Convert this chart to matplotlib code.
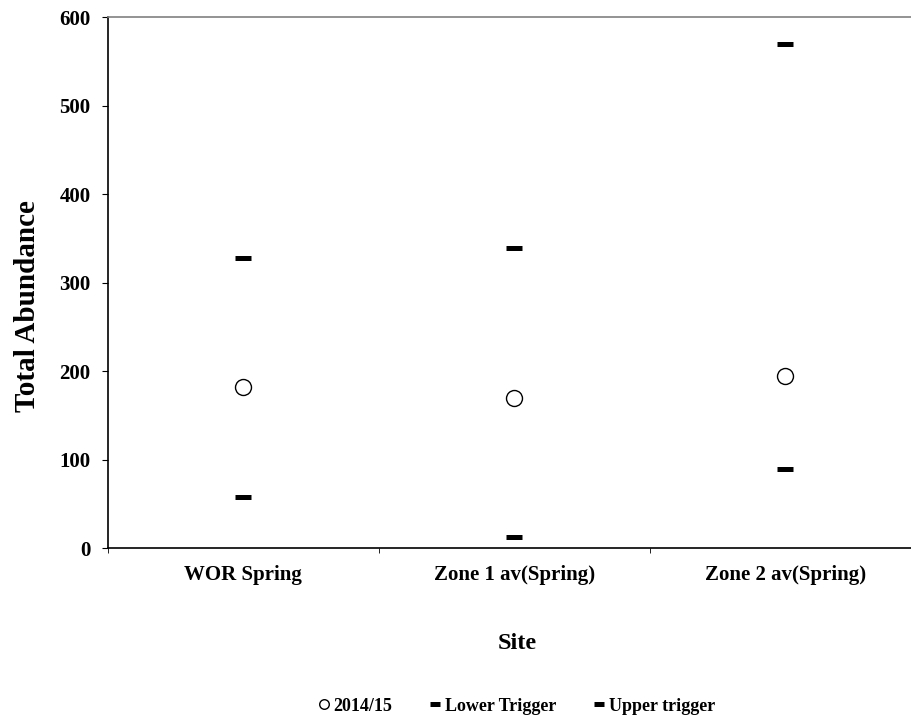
import matplotlib.pyplot as plt

sites = ["WOR Spring", "Zone 1 av(Spring)", "Zone 2 av(Spring)"]
abundance = [182, 170, 194]
lowerTrigger = [58, 13, 89]
upperTrigger = [328, 339, 570]

plt.rcParams['font.family'] = ['Liberation Serif', 'DejaVu Serif']
plt.rcParams['font.weight'] = 'bold'

fig = plt.figure(figsize=(9.12, 7.19), dpi=100)
ax = fig.add_axes([0.1184, 0.2378, 0.891, 0.7385])

x = range(len(sites))
ax.plot(x, abundance, linestyle='none', marker='o', markersize=11.5, markerfacecolor='white',
        markeredgecolor='black', markeredgewidth=1, label='2014/15')
ax.plot(x, lowerTrigger, linestyle='none', marker='_', markersize=12, markeredgewidth=3.6,
        color='black', label='Lower Trigger')
ax.plot(x, upperTrigger, linestyle='none', marker='_', markersize=12, markeredgewidth=3.6,
        color='black', label='Upper trigger')

ax.set_xlim(-0.5, 2.5)
ax.set_ylim(0, 600)
ax.set_yticks([0, 100, 200, 300, 400, 500, 600])
ax.set_xticks(list(x))
ax.set_xticklabels(sites, fontsize=15, fontweight='bold')
ax.set_xticks([-0.5, 0.5, 1.5, 2.5], minor=True)
ax.tick_params(axis='x', which='major', length=0, pad=12)
ax.tick_params(axis='x', which='minor', length=3.5, direction='out')
ax.tick_params(axis='y', length=4.5, direction='out', labelsize=15, pad=8)
for lbl in ax.get_yticklabels():
    lbl.set_fontweight('bold')

ax.spines['right'].set_visible(False)
ax.spines['top'].set_color('#808080')
ax.spines['top'].set_linewidth(1.2)
ax.spines['left'].set_linewidth(1.2)
ax.spines['bottom'].set_linewidth(1.2)

ax.set_ylabel("Total Abundance", fontsize=21, fontweight='bold')
ax.yaxis.set_label_coords(-0.083, 0.456)
ax.set_xlabel("Site", fontsize=17.5, fontweight='bold')
ax.xaxis.set_label_coords(0.504, -0.16)

fig.legend(loc='center', bbox_to_anchor=(0.566, 0.018), ncol=3, frameon=False,
           prop={'size': 13, 'weight': 'bold'}, handlelength=0.7, handletextpad=0.2,
           columnspacing=2.0, markerscale=0.6)

fig.savefig("out.png", dpi=100)
